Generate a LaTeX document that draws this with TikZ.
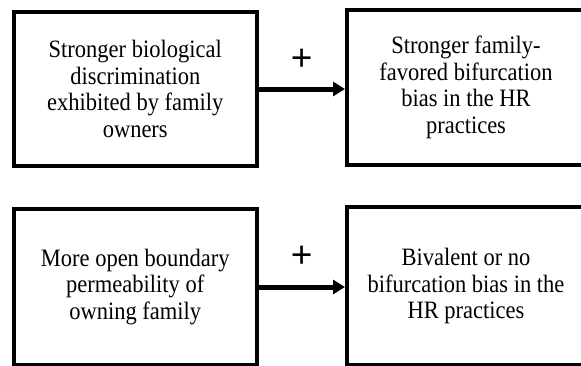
\documentclass[tikz,border=0pt]{standalone}
\usepackage{fontspec}
\setmainfont{Liberation Serif}[FakeStretch=0.9]
\newfontfamily\signfont{Liberation Sans}
\usetikzlibrary{arrows.meta}
\begin{document}
\begin{tikzpicture}[x=1pt,y=-1pt,
  box/.style={draw=black, line width=4pt, rectangle, align=center, inner sep=0pt,
    font=\fontsize{25}{26.7}\selectfont},
  link/.style={line width=5pt, -{Triangle[length=12pt,width=14pt]}},
  sign/.style={font=\signfont\fontsize{37}{40}\selectfont, inner sep=0pt}]
\useasboundingbox (0,0) rectangle (581,365);
\begin{scope}
  \clip (0,0) rectangle (581,365);
  % upper pair
  \node[box, minimum width=242.5pt, minimum height=154pt] (tl) at (135.25,89)
    {Stronger biological\\discrimination\\exhibited by family\\owners};
  \node[box, minimum width=238pt, minimum height=155.3pt] (tr) at (466,87.3)
    {Stronger family-\\favored bifurcation\\bias in the HR\\practices};
  % lower pair
  \node[box, minimum width=242.5pt, minimum height=156pt] (bl) at (135.25,287)
    {More open boundary\\permeability of\\owning family};
  \node[box, minimum width=238pt, minimum height=158pt] (br) at (466,286)
    {Bivalent or no\\bifurcation bias in the\\HR practices};
  % links
  \draw[link] (tl.east) -- (tl.east -| tr.west);
  \draw[link] (bl.east) -- (bl.east -| br.west);
  \node[sign] (s1) at (301.7,60) {+};
  \node[sign] (s2) at (301.7,257) {+};
\end{scope}
\end{tikzpicture}
\end{document}
